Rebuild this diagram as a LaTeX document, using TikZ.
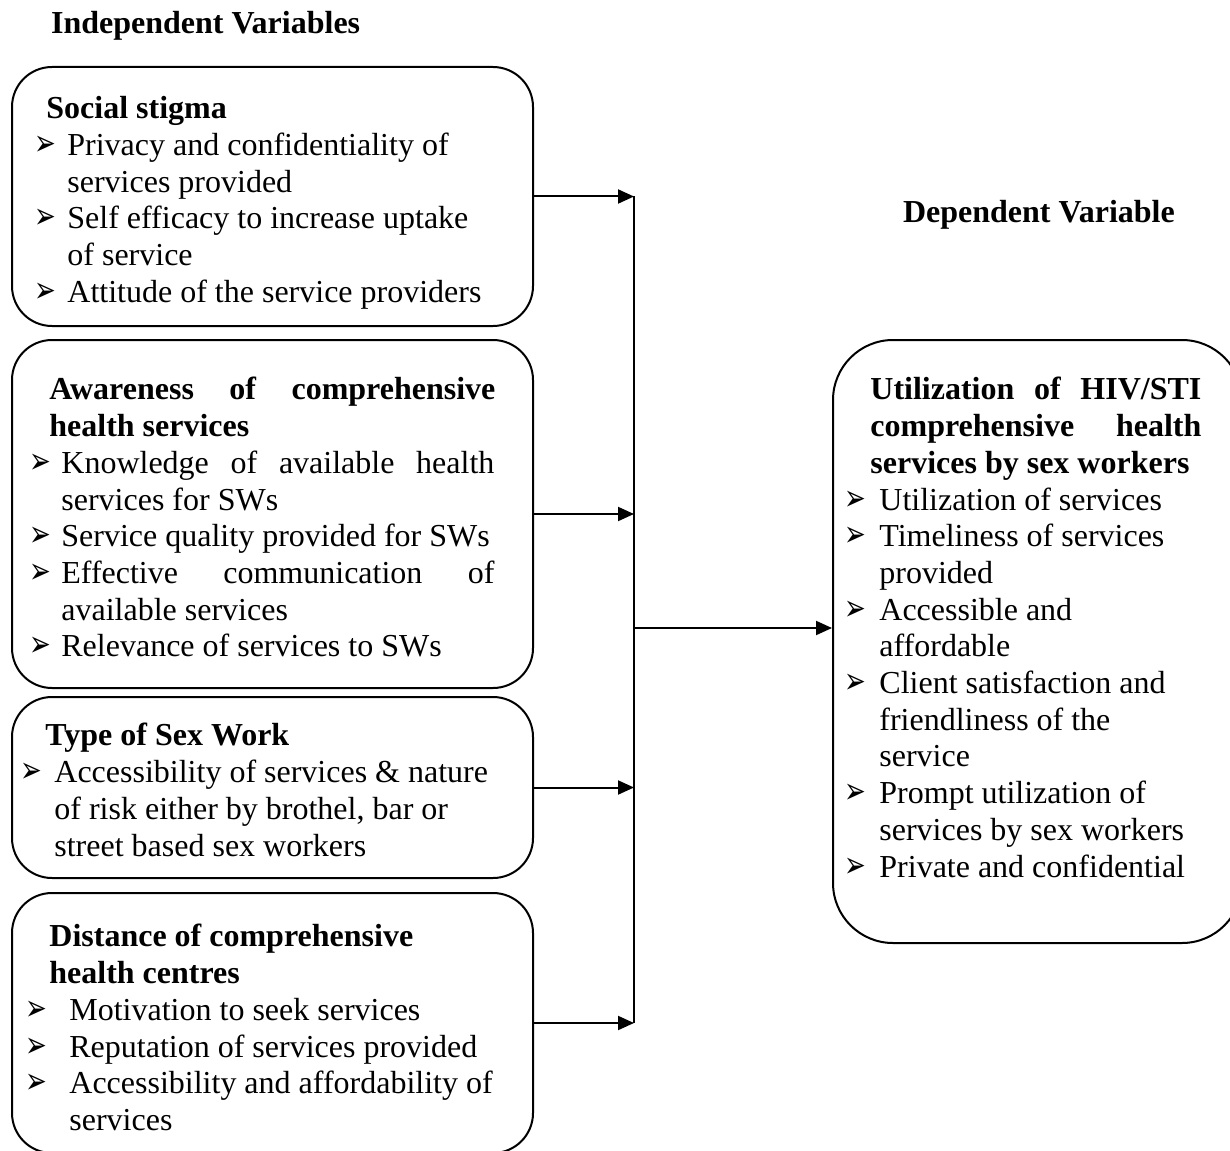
\documentclass[tikz,border=0pt]{standalone}
\usepackage{fontspec}
\setmainfont{Liberation Serif}
\newfontfamily\dejavu{DejaVu Sans}
\usetikzlibrary{fit,arrows.meta}
\newlength{\px}\setlength{\px}{0.5pt}
\newcommand{\bul}{\scalebox{1}[1.4]{\dejavu\fontsize{13}{13}\selectfont ➢}}
\newcommand{\itm}[2][33\px]{\makebox[#1][l]{\bul}#2}
\newcommand{\cnt}[2][33\px]{\hspace*{#1}#2}
\newcommand{\jl}[2]{\makebox[#1][s]{#2}}
\begin{document}
\begin{tikzpicture}[x=0.5pt,y=-0.5pt,line join=round,font=\fontsize{16}{18.35}\selectfont,
  box/.style={draw,line width=1pt,rounded corners=20pt,inner sep=0pt},
  txt/.style={anchor=north west,align=left,inner sep=0pt},
  head/.style={anchor=base west,font=\fontsize{16}{18.35}\selectfont\bfseries},
  arr/.style={-{Triangle[length=8pt,width=7pt]},line width=1pt}]
\useasboundingbox (0,0) rectangle (1230,1150);
\node[head] (indep) at (44,34) {Independent Variables};
\node[head] (dep) at (896,222) {Dependent Variable};
\node[box,fit={(12,67) (533,326)}] (stigma) {};
\node[txt] (stigmatext) at ([shift={(23,30)}]stigma.north west) {\hspace*{12\px}\textbf{Social stigma}\\
  \itm{Privacy and confidentiality of}\\ \cnt{services provided}\\
  \itm{Self efficacy to increase uptake}\\ \cnt{of service}\\
  \itm{Attitude of the service providers}};
\node[box,fit={(12,340) (533,688)}] (aware) {};
\node[txt] (awaretext) at ([shift={(18,38)}]aware.north west) {\hspace*{20\px}\jl{446\px}{\textbf{Awareness of comprehensive}}\\
  \hspace*{20\px}\textbf{health services}\\
  \itm[32\px]{\jl{433\px}{Knowledge of available health}}\\ \cnt[32\px]{services for SWs}\\
  \itm[32\px]{Service quality provided for SWs}\\
  \itm[32\px]{\jl{433\px}{Effective communication of}}\\ \cnt[32\px]{available services}\\
  \itm[32\px]{Relevance of services to SWs}};
\node[box,fit={(12,697) (533,878)}] (type) {};
\node[txt] (typetext) at ([shift={(9,27)}]type.north west) {\hspace*{25\px}\textbf{Type of Sex Work}\\
  \itm[34\px]{Accessibility of services \& nature}\\ \cnt[34\px]{of risk either by brothel, bar or}\\
  \cnt[34\px]{street based sex workers}};
\node[box,fit={(12,893) (533,1153)}] (dist) {};
\node[txt] (disttext) at ([shift={(14,32)}]dist.north west) {\hspace*{24\px}\textbf{Distance of comprehensive}\\
  \hspace*{24\px}\textbf{health centres}\\
  \itm[44\px]{Motivation to seek services}\\
  \itm[44\px]{Reputation of services provided}\\
  \itm[44\px]{Accessibility and affordability of}\\ \cnt[44\px]{services}};
\node[box,rounded corners=30pt,fit={(833,340) (1242,943)}] (util) {};
\node[txt] (utiltext) at ([shift={(12,38)}]util.north west) {\hspace*{26\px}\jl{331\px}{\textbf{Utilization of HIV/STI}}\\
  \hspace*{26\px}\jl{331\px}{\textbf{comprehensive health}}\\
  \hspace*{26\px}\textbf{services by sex workers}\\
  \itm[35\px]{Utilization of services}\\
  \itm[35\px]{Timeliness of services}\\ \cnt[35\px]{provided}\\
  \itm[35\px]{Accessible and}\\ \cnt[35\px]{affordable}\\
  \itm[35\px]{Client satisfaction and}\\ \cnt[35\px]{friendliness of the}\\ \cnt[35\px]{service}\\
  \itm[35\px]{Prompt utilization of}\\ \cnt[35\px]{services by sex workers}\\
  \itm[35\px]{Private and confidential}};
\coordinate (bus) at (634,628);
\foreach \b in {stigma,aware,type,dist}\draw[arr] (\b.east) -- (\b.east -| bus);
\draw[line width=1pt] (stigma.east -| bus) -- (dist.east -| bus);
\draw[arr] (bus) -- (bus -| util.west);
\end{tikzpicture}
\end{document}
